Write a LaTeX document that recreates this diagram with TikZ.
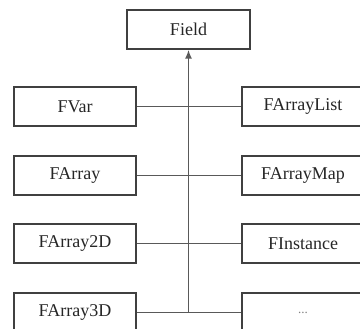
\documentclass[tikz,border=0pt]{standalone}
\usepackage{fontspec}
\setmainfont{Liberation Serif}
\usetikzlibrary{arrows.meta}
\begin{document}
\begin{tikzpicture}[x=1pt,y=-1pt,
  box/.style={draw=black!75,line width=1.3pt,minimum width=122pt,minimum height=39pt,inner sep=0pt,font=\fontsize{18}{20}\selectfont,text=black!85},
  link/.style={draw=black!65,line width=1.6pt}]
\useasboundingbox (0,0) rectangle (360,329);
\node[box,minimum width=123pt] (field) at (188.5,29.5) {Field};
\node[box] (l1) at (75,106.5) {FVar};
\node[box] (l2) at (75,175.5) {FArray};
\node[box] (l3) at (75,243.5) {FArray2D};
\node[box] (l4) at (75,312.5) {FArray3D};
\node[box] (r1) at (303,106.5) {FArrayList};
\node[box] (r2) at (303,175.5) {FArrayMap};
\node[box] (r3) at (303,243.5) {FInstance};
\node[box,text=black!50] (r4) at (303,312.5) {\fontsize{13}{14}\selectfont...};
\draw[link] (l1) -- (r1);
\draw[link] (l2) -- (r2);
\draw[link] (l3) -- (r3);
\draw[link] (l4) -- (r4);
\coordinate (j) at (field.south |- l4.east);
\draw[link,-{Latex[length=9pt,width=7pt]}] (j) -- (field.south);
\end{tikzpicture}
\end{document}
